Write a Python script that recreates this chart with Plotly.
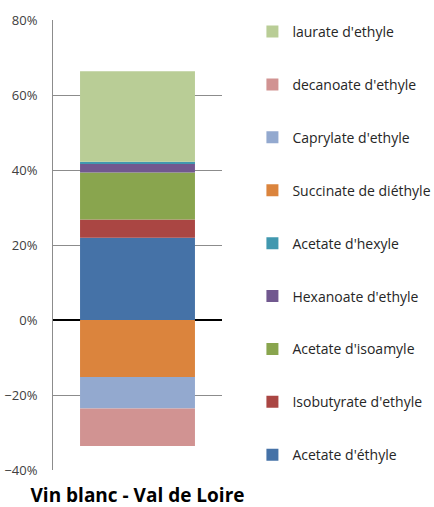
import plotly.graph_objects as go

categories = ["Vin blanc - Val de Loire"]
series_names = ["Acetate d'éthyle", "Isobutyrate d'ethyle", "Acetate d'isoamyle",
                "Hexanoate d'ethyle", "Acetate d'hexyle", "Succinate de diéthyle",
                "Caprylate d'ethyle", "decanoate d'ethyle", "laurate d'ethyle"]
series_values = [0.219, 0.049, 0.125, 0.024, 0.005, -0.152, -0.084, -0.100, 0.241]
colors = ["#4572A7", "#AA4643", "#89A54E", "#71588F", "#4198AF", "#DB843D",
          "#93A9CF", "#D19392", "#B9CD96"]
tick_vals = [-0.4, -0.2, 0, 0.2, 0.4, 0.6, 0.8]

fig = go.Figure()
n = len(series_names)
for i, (name, v, c) in enumerate(zip(series_names, series_values, colors)):
    fig.add_trace(go.Bar(x=categories, y=[v], name=name, marker_color=c,
                         marker_line_width=0, legendgroup=name,
                         legendrank=n - i))

fig.update_layout(
    width=434, height=507,
    barmode="relative", bargap=0.32,
    plot_bgcolor="white", paper_bgcolor="white",
    margin=dict(l=53, r=212, t=20, b=37, autoexpand=False),
    font=dict(family="Open Sans", size=14, color="#262626"),
    showlegend=True,
    legend=dict(traceorder="grouped", x=1.18, xanchor="left", y=1.009, yanchor="top",
                tracegroupgap=31.7, font=dict(size=14, color="#262626"),
                itemwidth=30, maxheight=507),
)
fig.update_yaxes(range=[-0.4, 0.8], tickvals=tick_vals, tickformat=".0%",
                 showgrid=True, gridcolor="#8C8C8C", gridwidth=1,
                 showline=True, linecolor="#8C8C8C", linewidth=1,
                 zeroline=True, zerolinecolor="black", zerolinewidth=2,
                 tickfont=dict(size=13, color="#404040"),
                 ticks="outside", ticklen=12, tickcolor="rgba(0,0,0,0)",
                 automargin=False)
fig.update_xaxes(tickvals=categories,
                 ticktext=["<b>" + c + "</b>" for c in categories],
                 tickfont=dict(size=19, color="black"), showline=False, showgrid=False,
                 ticks="outside", ticklen=8, tickcolor="rgba(0,0,0,0)",
                 automargin=False)

fig.write_html("out.html", config={"displayModeBar": False},
               post_script="document.body.style.margin='0';document.body.style.overflow='hidden';")
